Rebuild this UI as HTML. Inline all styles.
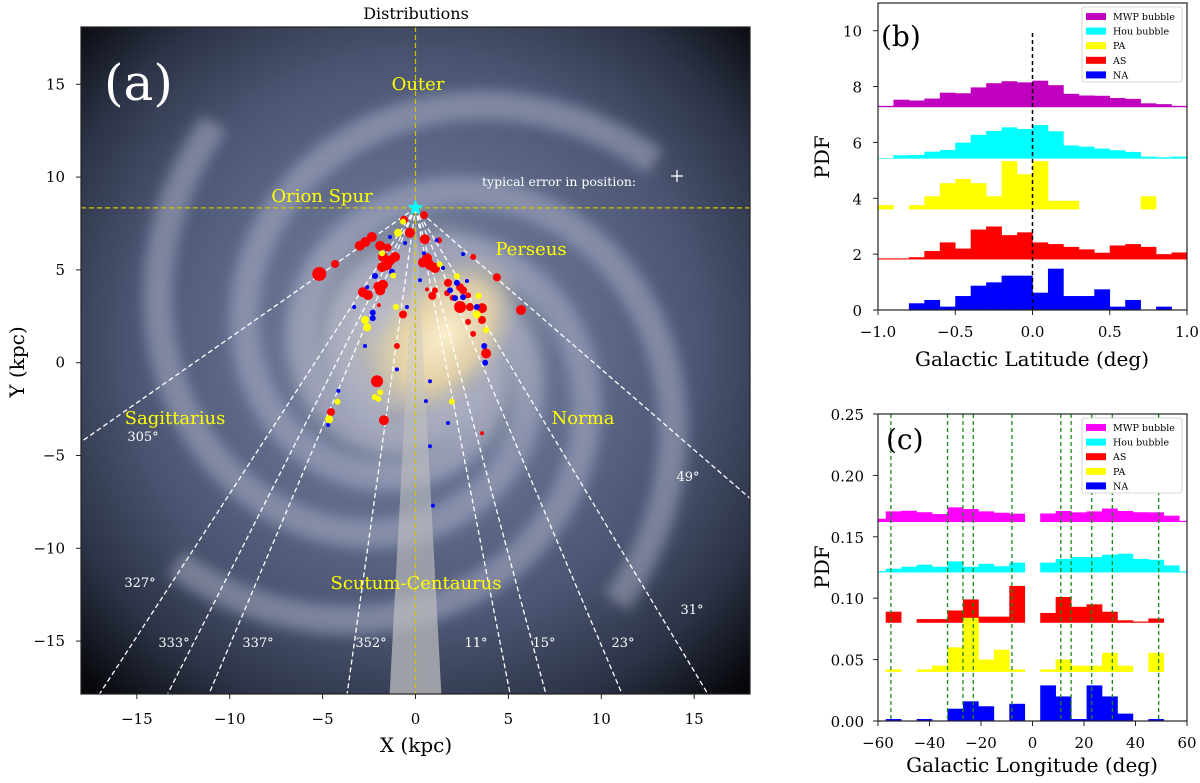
<!DOCTYPE html>
<html><head><meta charset="utf-8">
<style>
html,body{margin:0;padding:0;background:#fff;width:1200px;height:783px;overflow:hidden;}
svg{display:block;font-family:"DejaVu Serif","Liberation Serif",serif;}
</style></head>
<body>
<svg id="fig" width="1200" height="783" viewBox="0 0 1200 783" xmlns="http://www.w3.org/2000/svg">
<defs>
  <clipPath id="clipA"><rect x="81" y="27" width="669" height="667"/></clipPath>
  <radialGradient id="disk" cx="415" cy="345" r="470" gradientUnits="userSpaceOnUse">
    <stop offset="0" stop-color="#e9dcb8"/>
    <stop offset="0.14" stop-color="#a9aab4"/>
    <stop offset="0.3" stop-color="#667190"/>
    <stop offset="0.6" stop-color="#4c5673"/>
    <stop offset="0.82" stop-color="#2c3346"/>
    <stop offset="1" stop-color="#07080c"/>
  </radialGradient>
  <radialGradient id="bulge" cx="0.5" cy="0.5" r="0.5">
    <stop offset="0" stop-color="#fbefcc" stop-opacity="1"/>
    <stop offset="0.6" stop-color="#e8d4a4" stop-opacity="0.8"/>
    <stop offset="1" stop-color="#c9bfa8" stop-opacity="0"/>
  </radialGradient>
  <linearGradient id="wedge" x1="0" y1="0" x2="0" y2="1">
    <stop offset="0" stop-color="#c8c8c8" stop-opacity="0.3"/>
    <stop offset="1" stop-color="#c0c0c0" stop-opacity="0.75"/>
  </linearGradient>
  <filter id="blur6"><feGaussianBlur stdDeviation="6"/></filter>
</defs>

<g id="panelA">
  <g clip-path="url(#clipA)">
    <rect x="81" y="27" width="669" height="667" fill="url(#disk)"/>
    <g id="arms" filter="url(#blur6)"></g>
    <ellipse cx="445" cy="335" rx="95" ry="60" transform="rotate(-50 445 335)" fill="url(#bulge)"/>
    <g id="aLayer"></g>
  </g>
  <rect x="81" y="27" width="669" height="667" fill="none" stroke="#222" stroke-width="1.2"/>
  <text x="416" y="19" font-size="16" text-anchor="middle">Distributions</text>
  <text x="104" y="100" font-size="50" fill="#fff">(a)</text>
  <g font-size="18" fill="#ffff00" text-anchor="middle">
    <text x="418" y="90">Outer</text>
    <text x="322" y="202">Orion Spur</text>
    <text x="531" y="255">Perseus</text>
    <text x="175" y="424">Sagittarius</text>
    <text x="583" y="424">Norma</text>
    <text x="416" y="589">Scutum-Centaurus</text>
  </g>
  <text x="482" y="186" font-size="12.5" fill="#fff">typical error in position:</text>
  <g stroke="#fff" stroke-width="1.3"><line x1="671" y1="176" x2="683" y2="176"/><line x1="677" y1="170" x2="677" y2="182"/></g>
  <g id="aAxes"></g>
  <text x="416" y="752" font-size="20" text-anchor="middle">X (kpc)</text>
  <text transform="translate(24 362) rotate(-90)" font-size="20" text-anchor="middle">Y (kpc)</text>
</g>

<g id="panelB">
  <g id="bLayer"></g>
  <rect x="878" y="3" width="309" height="307" fill="none" stroke="#222" stroke-width="1.2"/>
  <text x="881" y="46" font-size="28">(b)</text>
  <g id="bAxes"></g>
  <text x="1032" y="366" font-size="20" text-anchor="middle">Galactic Latitude (deg)</text>
  <text transform="translate(829 157) rotate(-90)" font-size="20" text-anchor="middle">PDF</text>
  <g id="bLegend"></g>
</g>

<g id="panelC">
  <g id="cLayer"></g>
  <rect x="878" y="414" width="309" height="307" fill="none" stroke="#222" stroke-width="1.2"/>
  <text x="886" y="449" font-size="28">(c)</text>
  <g id="cAxes"></g>
  <text x="1032" y="772" font-size="20" text-anchor="middle">Galactic Longitude (deg)</text>
  <text transform="translate(829 567) rotate(-90)" font-size="20" text-anchor="middle">PDF</text>
  <g id="cLegend"></g>
</g>
</svg>

<script>
// ---------- Panel A data ----------
const aXTicks = [-15, -10, -5, 0, 5, 10, 15];
const aYTicks = [-15, -10, -5, 0, 5, 10, 15];
const sunY = 8.34;
const rayLongitudes = [305, 327, 333, 337, 352, 11, 15, 23, 31, 49];
const redX = [-5.18,-4.33,-3.0,-2.7,-2.35,-1.9,-1.5,-1.75,-1.37,-1.1,-1.53,-1.8,-2.83,-2.56,-1.9,-1.75,-2.0,-0.3,-0.62,0.45,0.5,1.27,0.4,0.78,1.05,0.62,3.1,4.38,5.68,1.75,2.4,2.56,0.9,1.05,1.7,2.0,2.83,2.4,2.93,3.58,3.58,2.83,3.1,3.8,-0.67,-1.0,-2.07,-1.7,-4.55,-1.97,0.62,3.58];
const redY = [4.78,5.32,6.3,6.5,6.77,6.3,6.2,5.7,5.5,5.7,5.25,5.15,3.8,3.64,3.9,4.2,4.1,7.0,7.7,7.95,6.65,6.6,5.4,5.26,5.1,5.63,5.7,4.6,2.84,4.3,4.07,3.9,3.6,3.9,3.75,3.5,3.63,3.0,3.0,2.94,2.3,2.2,1.55,0.5,2.6,0.9,-1.0,-3.1,-2.66,3.1,3.95,-3.8];
const redS = [7,4,5,5,5,5,4,5,5,5,5,5,5,5,5,5,5,5,4,4,5,3,5,5,5,5,3,4,5,4,4,4,4,3,3,3,3,6,4,5,4,3,3,5,4,3,6,5,4,2,2,2];
const yellowX = [-0.94,-0.67,-1.8,-1.2,-2.72,-2.6,-1.05,2.23,3.4,3.8,3.3,-1.9,-2.0,-2.2,-4.2,-4.65,1.96,1.3];
const yellowY = [7.0,7.6,5.9,4.7,2.3,1.9,3.0,4.66,3.6,1.76,2.6,-1.6,-1.95,-1.85,-2.1,-3.05,-2.1,5.3];
const yellowS = [4,3,3,3,4,4,3,3,3,3,4,3,3,3,3,4,3,3];
const blueX = [-1.37,-0.56,1.15,2.56,0.45,-2.18,-1.27,1.48,2.77,2.23,0.24,-2.6,1.86,2.13,2.56,-3.3,-2.3,-2.3,-0.46,3.3,3.7,3.75,-2.72,-1.0,0.78,-4.15,0.56,1.75,-4.7,0.78,0.94];
const blueY = [6.77,6.45,6.6,5.85,5.9,4.67,4.9,5.1,4.4,4.3,4.45,4.07,3.9,3.48,3.53,3.0,2.7,2.4,3.0,3.0,0.9,0.0,0.9,-0.36,-1.0,-1.52,-2.07,-3.25,-3.36,-4.5,-7.7];
const blueS = [2,2,2,2,2,3,3,2,2,3,2,2,3,3,3,2,3,3,2,3,3,3,2,2,2,2,2,2,2,2,2];

// ---------- Panel B data ----------
const latBinLeft = [-1.0,-0.9,-0.8,-0.7,-0.6,-0.5,-0.4,-0.3,-0.2,-0.1,0.0,0.1,0.2,0.3,0.4,0.5,0.6,0.7,0.8,0.9];
const latTicks = [-1.0,-0.5,0.0,0.5,1.0];
const latTickLabels = ["\u22121.0","\u22120.5","0.0","0.5","1.0"];
const latYTicks = [0,2,4,6,8,10];
const latMWP = [0.05,0.27,0.24,0.31,0.52,0.5,0.71,0.86,0.93,0.89,0.95,0.79,0.48,0.42,0.41,0.33,0.30,0.14,0.11,0.05];
const latHou = [0.02,0.12,0.13,0.25,0.31,0.57,0.85,0.99,1.12,1.06,1.2,0.98,0.47,0.43,0.36,0.30,0.24,0.07,0.05,0.07];
const latPA = [0.155,0,0.155,0.47,0.94,1.09,0.94,0.47,1.73,1.26,1.73,0.31,0.31,0,0,0,0,0.47,0,0];
const latAS = [0.04,0.04,0.08,0.3,0.61,0.39,1.07,1.18,0.87,0.97,0.61,0.55,0.45,0.36,0.24,0.5,0.55,0.45,0.19,0.25];
const latNA = [0,0,0.24,0.36,0.12,0.5,0.87,0.99,1.23,1.23,0.62,1.48,0.5,0.5,0.74,0.12,0.36,0,0.12,0];
const latOffsets = [7.26,5.42,3.6,1.81,0];

// ---------- Panel C data ----------
const lonBinLeft = [-60,-57,-51,-45,-39,-33,-27,-21,-15,-9, 3,9,15,21,27,33,39,45,51,57];
const lonBinRight = [-57,-51,-45,-39,-33,-27,-21,-15,-9,-3, 9,15,21,27,33,39,45,51,57,60];
const lonTicks = [-60,-40,-20,0,20,40,60];
const lonTickLabels = ["\u221260","\u221240","\u221220","0","20","40","60"];
const lonYTicks = [0,0.05,0.10,0.15,0.20,0.25];
const lonYTickLabels = ["0.00","0.05","0.10","0.15","0.20","0.25"];
const lonMWP = [0.0027,0.0087,0.0092,0.008,0.0065,0.012,0.0106,0.0087,0.0076,0.0068, 0.007,0.009,0.0079,0.0087,0.011,0.009,0.008,0.0079,0.0052,0.001];
const lonHou = [0.001,0.003,0.0046,0.0063,0.0046,0.009,0.0046,0.007,0.005,0.008, 0.008,0.011,0.0125,0.0125,0.0144,0.0152,0.011,0.0103,0.0057,0.001];
const lonAS = [0,0.009,0,0.003,0.003,0.010,0.019,0.005,0.005,0.030, 0.008,0.021,0.013,0.015,0.009,0.002,0.001,0.0035,0,0];
const lonPA = [0,0.002,0,0.002,0.005,0.020,0.044,0.010,0.018,0.002, 0.002,0.010,0.005,0.005,0.0155,0.005,0,0.0155,0,0];
const lonNA = [0,0.0016,0,0.0016,0,0.010,0.016,0.012,0,0.014, 0.029,0.020,0.0016,0.029,0.020,0.006,0,0.0016,0,0];
const lonOffsets = [0.162,0.121,0.08,0.04,0];
const armLongitudes = [-55,-33,-27,-23,-8,11,15,23,31,49];

const NS = "http://www.w3.org/2000/svg";
function mk(tag, attrs, parent){ const e=document.createElementNS(NS,tag); for(const k in attrs) e.setAttribute(k,attrs[k]); parent.appendChild(e); return e; }

// ---------- Panel A ----------
const ax = x => 415.5 + x*18.58;
const ay = y => 362.7 - y*18.56;
const aL = document.getElementById('aLayer');
const arms = document.getElementById('arms');
for (let k=0;k<4;k++){
  let d='';
  for (let t=0;t<=380;t+=4){
    const th = (t + k*90 + 30)*Math.PI/180;
    const r = 3.0*Math.exp(0.26*t*Math.PI/180);
    const px = 415.5 + r*18.58*Math.cos(th), py = 362.7 + r*18.56*Math.sin(th);
    d += (t===0?'M':'L')+px.toFixed(1)+' '+py.toFixed(1)+' ';
  }
  const p = mk('path',{d:d,fill:'none',stroke:'#b4c0d8','stroke-width':30,'stroke-opacity':0.42},arms);
  
  
  const q = mk('path',{d:d,fill:'none',stroke:'#c48a96','stroke-width':3,'stroke-opacity':0.45},arms);
  
  
}
const wedge = mk('polygon',{points:`${ax(0)},${ay(sunY)} ${ax(-1.4)},${ay(-18)} ${ax(1.4)},${ay(-18)}`,fill:'url(#wedge)'},aL);


const hl = mk('line',{x1:81,x2:750,y1:ay(sunY),y2:ay(sunY),stroke:'#d4c400','stroke-width':1.2,'stroke-dasharray':'5,3'},aL);


const vl = mk('line',{x1:ax(0),x2:ax(0),y1:27,y2:694,stroke:'#d4c400','stroke-width':1.2,'stroke-dasharray':'5,3'},aL);


rayLongitudes.forEach(l=>{
  const rad=l*Math.PI/180, sx=Math.sin(rad), sy=-Math.cos(rad);
  // distance to frame edge (x in [-18,18], y >= -18)
  let d = (sunY+18)/(-sy);
  if (sx>0) d=Math.min(d,18/sx); else if (sx<0) d=Math.min(d,-18/sx);
  const r = mk('line',{x1:ax(0),y1:ay(sunY),x2:ax(d*sx),y2:ay(sunY+d*sy),stroke:'#fff','stroke-width':1.3,'stroke-dasharray':'5,3'},aL);
  
  
});
function dots(xs,ys,ss,color,name){
  xs.forEach((x,i)=>{
    const c = mk('circle',{cx:ax(x),cy:ay(ys[i]),r:ss[i],fill:color},aL);
    
    
  });
}
dots(redX,redY,redS,'#ff0000','as-source');
dots(blueX,blueY,blueS,'#0000ff','na-source');
dots(yellowX,yellowY,yellowS,'#ffff00','pa-source');
(function(){
  let pts=''; const cx=ax(0), cy=ay(sunY);
  for(let i=0;i<10;i++){const r=i%2?3.5:8.5; const a=-Math.PI/2+i*Math.PI/5; pts+=(cx+r*Math.cos(a)).toFixed(1)+','+(cy+r*Math.sin(a)).toFixed(1)+' ';}
  const s=mk('polygon',{points:pts,fill:'#00ffff'},aL);
  
  
})();
const degPos = [[143,441],[140,587],[174,647],[258,647],[371,647],[476,647],[544,647],[623,647],[692,614],[688,481]];
rayLongitudes.forEach((l,i)=>{
  const t = mk('text',{x:degPos[i][0],y:degPos[i][1],'font-size':13,fill:'#fff','text-anchor':'middle'},document.getElementById('panelA'));
  t.textContent = l+'\u00b0';
  
  
});
const aA = document.getElementById('aAxes');
aXTicks.forEach(v=>{
  mk('line',{x1:ax(v),x2:ax(v),y1:694,y2:699,stroke:'#222'},aA);
  const t=mk('text',{x:ax(v),y:724,'font-size':15,'text-anchor':'middle'},aA);
  t.textContent = v<0?'\u2212'+(-v):String(v);
  
  
});
aYTicks.forEach(v=>{
  mk('line',{x1:76,x2:81,y1:ay(v),y2:ay(v),stroke:'#222'},aA);
  const t=mk('text',{x:65,y:ay(v)+5,'font-size':15,'text-anchor':'end'},aA);
  t.textContent = v<0?'\u2212'+(-v):String(v);
  
  
});

// ---------- Panel B ----------
const bx = v => 878 + (v+1)*154.5;
const by = v => 310 - v*27.93;
const bL = document.getElementById('bLayer');
const latSeries = [[latMWP,'#bf00bf','mwp'],[latHou,'#00ffff','hou'],[latPA,'#ffff00','pa'],[latAS,'#ff0000','as'],[latNA,'#0000ff','na']];
latSeries.forEach((s,si)=>{
  const base = latOffsets[si];
  s[0].forEach((v,i)=>{
    if(v<=0) return;
    const x0=bx(latBinLeft[i]), x1=bx(latBinLeft[i]+0.1);
    const r=mk('rect',{x:x0,y:by(base+v),width:x1-x0+0.3,height:by(base)-by(base+v),fill:s[1]},bL);
    
    
  });
});
const zl = mk('line',{x1:bx(0),x2:bx(0),y1:by(0),y2:by(10),stroke:'#000','stroke-width':1.5,'stroke-dasharray':'4,3'},bL);


const bA = document.getElementById('bAxes');
latTicks.forEach((v,i)=>{
  mk('line',{x1:bx(v),x2:bx(v),y1:310,y2:315,stroke:'#222'},bA);
  const t=mk('text',{x:bx(v),y:337,'font-size':15,'text-anchor':'middle'},bA);
  t.textContent=latTickLabels[i];
  
  
});
latYTicks.forEach(v=>{
  mk('line',{x1:873,x2:878,y1:by(v),y2:by(v),stroke:'#222'},bA);
  const t=mk('text',{x:862,y:by(v)+6,'font-size':15,'text-anchor':'end'},bA);
  t.textContent=String(v);
  
  
});
function legend(g,x,y,entries){
  const box=mk('rect',{x:x,y:y,width:100,height:75,fill:'#fff',stroke:'#ccc','stroke-width':0.8,rx:2},g);
  
  
  entries.forEach((e,i)=>{
    const yy=y+9+i*14.6;
    const sw=mk('rect',{x:x+4,y:yy-3,width:20,height:7,fill:e[1]},g);
    
    
    const t=mk('text',{x:x+31,y:yy+4,'font-size':9.5},g);
    t.textContent=e[0];
    
    
  });
}
legend(document.getElementById('bLegend'),1082,7,[['MWP bubble','#bf00bf'],['Hou bubble','#00ffff'],['PA','#ffff00'],['AS','#ff0000'],['NA','#0000ff']]);

// ---------- Panel C ----------
const cx = v => 878 + (v+60)*2.575;
const cy = v => 721 - v*1228;
const cL = document.getElementById('cLayer');
const lonSeries = [[lonMWP,'#ff00ff','mwp'],[lonHou,'#00ffff','hou'],[lonAS,'#ff0000','as'],[lonPA,'#ffff00','pa'],[lonNA,'#0000ff','na']];
lonSeries.forEach((s,si)=>{
  const base=lonOffsets[si];
  s[0].forEach((v,i)=>{
    if(v<=0) return;
    const x0=cx(lonBinLeft[i]), x1=cx(lonBinRight[i]);
    const r=mk('rect',{x:x0,y:cy(base+v),width:x1-x0+0.3,height:cy(base)-cy(base+v),fill:s[1]},cL);
    
    
  });
});
armLongitudes.forEach(l=>{
  const ln=mk('line',{x1:cx(l),x2:cx(l),y1:414,y2:721,stroke:'#1a8a1a','stroke-width':1.3,'stroke-dasharray':'4,3'},cL);
  
  
});
const cA=document.getElementById('cAxes');
lonTicks.forEach((v,i)=>{
  mk('line',{x1:cx(v),x2:cx(v),y1:721,y2:726,stroke:'#222'},cA);
  const t=mk('text',{x:cx(v),y:748,'font-size':15,'text-anchor':'middle'},cA);
  t.textContent=lonTickLabels[i];
  
  
});
lonYTicks.forEach((v,i)=>{
  mk('line',{x1:873,x2:878,y1:cy(v),y2:cy(v),stroke:'#222'},cA);
  const t=mk('text',{x:864,y:cy(v)+6,'font-size':15,'text-anchor':'end'},cA);
  t.textContent=lonYTickLabels[i];
  
  
});
legend(document.getElementById('cLegend'),1082,418,[['MWP bubble','#ff00ff'],['Hou bubble','#00ffff'],['AS','#ff0000'],['PA','#ffff00'],['NA','#0000ff']]);
</script>
</body></html>
